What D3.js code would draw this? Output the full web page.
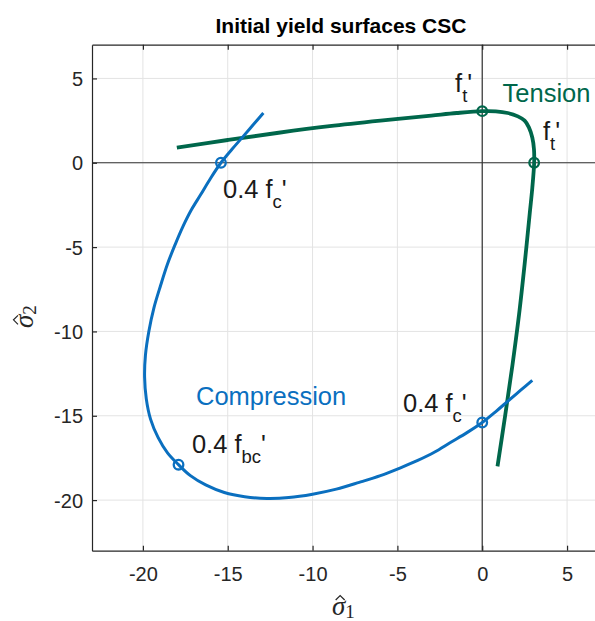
<!DOCTYPE html>
<html>
<head>
<meta charset="utf-8">
<script src="https://cdn.jsdelivr.net/npm/d3@7"></script>
<style>
  body { margin: 0; background: #fff; }
  svg { display: block; }
</style>
</head>
<body>
<svg id="chart" width="595" height="621"></svg>
<script>
// Axis limits and ticks
const xDomain = [-23, 7];
const yDomain = [-23, 7];
const xTicks = [-20, -15, -10, -5, 0, 5];
const yTicks = [-20, -15, -10, -5, 0, 5];

// Compression surface (sigma1, sigma2)
const compressionX = [-12.9, -13.5, -14.1, -14.75, -15.4, -16.0, -16.6, -17.15, -17.65, -18.1, -18.55, -18.95, -19.35, -19.65, -19.85, -19.9, -19.8, -19.55, -19.1, -18.55, -17.9,
  -17.2, -16.3, -15.2, -14.0, -12.7, -11.4, -10.0, -8.6, -7.25, -6.0, -4.85, -3.8, -2.8, -1.9, -0.9, 0, 0.8, 1.55, 2.25, 2.95];
const compressionY = [2.95, 2.25, 1.55, 0.8, 0, -0.9, -1.9, -2.8, -3.8, -4.85, -6.0, -7.25, -8.6, -10.0, -11.4, -12.7, -14.0, -15.2, -16.3, -17.2, -17.9,
  -18.55, -19.1, -19.55, -19.8, -19.9, -19.85, -19.65, -19.35, -18.95, -18.55, -18.1, -17.65, -17.15, -16.6, -16.0, -15.4, -14.75, -14.1, -13.5, -12.9];

// Tension surface (sigma1, sigma2)
const tensionX = [-18.0, -15.0, -12.0, -9.0, -6.0, -3.0, -1.5, 0, 0.8, 1.5, 2.1, 2.5, 2.75, 2.95, 3.05, 3.06, 2.95, 2.8, 2.5, 2.17, 1.78, 1.35, 0.9];
const tensionY = [0.9, 1.35, 1.78, 2.17, 2.5, 2.8, 2.95, 3.06, 3.05, 2.95, 2.75, 2.5, 2.1, 1.5, 0.8, 0, -1.5, -3.0, -6.0, -9.0, -12.0, -15.0, -18.0];

// Marked strengths
const compressionMarkX = [-15.4, -17.9, 0];
const compressionMarkY = [0, -17.9, -15.4];
const tensionMarkX = [0, 3.06];
const tensionMarkY = [3.06, 0];

const blue = "#0a6fbf";
const green = "#00674b";
const axisColor = "#262626";

const svg = d3.select("#chart");
const plotLeft = 92, plotRight = 601, plotTop = 44.7, plotBottom = 550.7;

const x = d3.scaleLinear().domain(xDomain).range([plotLeft, plotRight]);
const y = d3.scaleLinear().domain(yDomain).range([plotBottom, plotTop]);

svg.append("rect").attr("width", 595).attr("height", 621).attr("fill", "#fff");

svg.append("defs").append("clipPath").attr("id", "plot-clip")
  .append("rect").attr("x", plotLeft).attr("y", plotTop)
  .attr("width", plotRight - plotLeft).attr("height", plotBottom - plotTop);

// Grid
const grid = svg.append("g");
grid.selectAll(".gx").data(xTicks).join("line")
  .attr("x1", d => x(d)).attr("x2", d => x(d)).attr("y1", plotTop).attr("y2", plotBottom)
  .attr("stroke", "#e3e3e3").attr("stroke-width", 1);
grid.selectAll(".gy").data(yTicks).join("line")
  .attr("y1", d => y(d)).attr("y2", d => y(d)).attr("x1", plotLeft).attr("x2", plotRight)
  .attr("stroke", "#e3e3e3").attr("stroke-width", 1);

// Zero lines
svg.append("line").attr("x1", x(0)).attr("x2", x(0)).attr("y1", plotTop).attr("y2", plotBottom)
  .attr("stroke", "#333").attr("stroke-width", 1.2);
svg.append("line").attr("y1", y(0)).attr("y2", y(0)).attr("x1", plotLeft).attr("x2", plotRight)
  .attr("stroke", "#333").attr("stroke-width", 1.2);

// Axes with inward ticks on all sides
const fmt = d => String(d);
const axB = svg.append("g").attr("transform", `translate(0,${plotBottom})`)
  .call(d3.axisBottom(x).tickValues(xTicks).tickSizeInner(-5).tickSizeOuter(0).tickPadding(16).tickFormat(fmt));
const axT = svg.append("g").attr("transform", `translate(0,${plotTop})`)
  .call(d3.axisTop(x).tickValues(xTicks).tickSizeInner(-5).tickSizeOuter(0).tickFormat(""));
const axL = svg.append("g").attr("transform", `translate(${plotLeft},0)`)
  .call(d3.axisLeft(y).tickValues(yTicks).tickSizeInner(-5).tickSizeOuter(0).tickPadding(9).tickFormat(fmt));
const axR = svg.append("g").attr("transform", `translate(${plotRight},0)`)
  .call(d3.axisRight(y).tickValues(yTicks).tickSizeInner(-5).tickSizeOuter(0).tickFormat(""));
[axB, axT, axL, axR].forEach(g => {
  g.select(".domain").attr("stroke", axisColor).attr("stroke-width", 1.2);
  g.selectAll(".tick line").attr("stroke", axisColor).attr("stroke-width", 1.2);
  g.selectAll(".tick text").attr("fill", axisColor)
    .style("font-family", "'Liberation Sans', Arial, sans-serif").style("font-size", "20px");
});
axL.selectAll(".tick text").attr("dy", "0.35em");

// Curves
const plot = svg.append("g").attr("clip-path", "url(#plot-clip)");
const line = d3.line().x(d => x(d[0])).y(d => y(d[1])).curve(d3.curveCatmullRom.alpha(0.5));

const tensionPts = tensionX.map((v, i) => [v, tensionY[i]]);
const compressionPts = compressionX.map((v, i) => [v, compressionY[i]]);

plot.append("path").datum(tensionPts).attr("d", line)
  .attr("fill", "none").attr("stroke", green).attr("stroke-width", 3.8).attr("stroke-linejoin", "round");
plot.append("path").datum(compressionPts).attr("d", line)
  .attr("fill", "none").attr("stroke", blue).attr("stroke-width", 3).attr("stroke-linejoin", "round");

plot.selectAll(".mt").data(tensionMarkX.map((v, i) => [v, tensionMarkY[i]])).join("circle")
  .attr("cx", d => x(d[0])).attr("cy", d => y(d[1])).attr("r", 4.8)
  .attr("fill", "none").attr("stroke", green).attr("stroke-width", 2.3);
plot.selectAll(".mc").data(compressionMarkX.map((v, i) => [v, compressionMarkY[i]])).join("circle")
  .attr("cx", d => x(d[0])).attr("cy", d => y(d[1])).attr("r", 4.8)
  .attr("fill", "none").attr("stroke", blue).attr("stroke-width", 2.3);

// Annotations
const sans = "'Liberation Sans', Arial, sans-serif";
function label(px, py, main, sub, color) {
  const t = svg.append("text").attr("x", x(px)).attr("y", y(py))
    .attr("fill", color).style("font-family", sans).style("font-size", "25.5px");
  t.append("tspan").text(main);
  if (sub) {
    t.append("tspan").attr("dy", 10).style("font-size", "18.5px").text(sub);
    t.append("tspan").attr("dy", -10).text("'");
  }
}
label(-1.6, 4.2, "f", "t", "#1a1a1a");
label(3.58, 1.35, "f", "t", "#1a1a1a");
label(1.2, 3.6, "Tension", null, green);
label(-15.28, -2.09, "0.4 f", "c", "#1a1a1a");
label(-17.11, -17.21, "0.4 f", "bc", "#1a1a1a");
label(-16.87, -14.36, "Compression", null, blue);
label(-4.67, -14.76, "0.4 f", "c", "#1a1a1a");

// Title
svg.append("text").attr("x", 341).attr("y", 33).attr("text-anchor", "middle")
  .attr("fill", "#000").style("font-family", sans).style("font-size", "21px").style("font-weight", "bold")
  .text("Initial yield surfaces CSC");

// Axis labels: hat sigma with subscript
const serif = "'Liberation Serif', 'DejaVu Serif', serif";
function sigmaLabel(g, idx) {
  const t = g.append("text").attr("x", -14).attr("y", 0).attr("fill", axisColor).style("font-family", serif);
  t.append("tspan").style("font-style", "italic").style("font-size", "27px").text("σ");
  t.append("tspan").attr("dy", 3).style("font-size", "19px").text(idx);
  const ext = t.node().getExtentOfChar(0);
  const cx = ext.x + ext.width / 2 + 1.5;
  g.append("path")
    .attr("d", `M${cx - 4.5},-15 L${cx},-19.5 L${cx + 4.5},-15`)
    .attr("fill", "none").attr("stroke", axisColor).attr("stroke-width", 1.2);
}
const xl = svg.append("g").attr("transform", `translate(346,615)`);
sigmaLabel(xl, "1");
const yl = svg.append("g").attr("transform", `translate(33,314) rotate(-90)`);
sigmaLabel(yl, "2");
</script>
</body>
</html>
